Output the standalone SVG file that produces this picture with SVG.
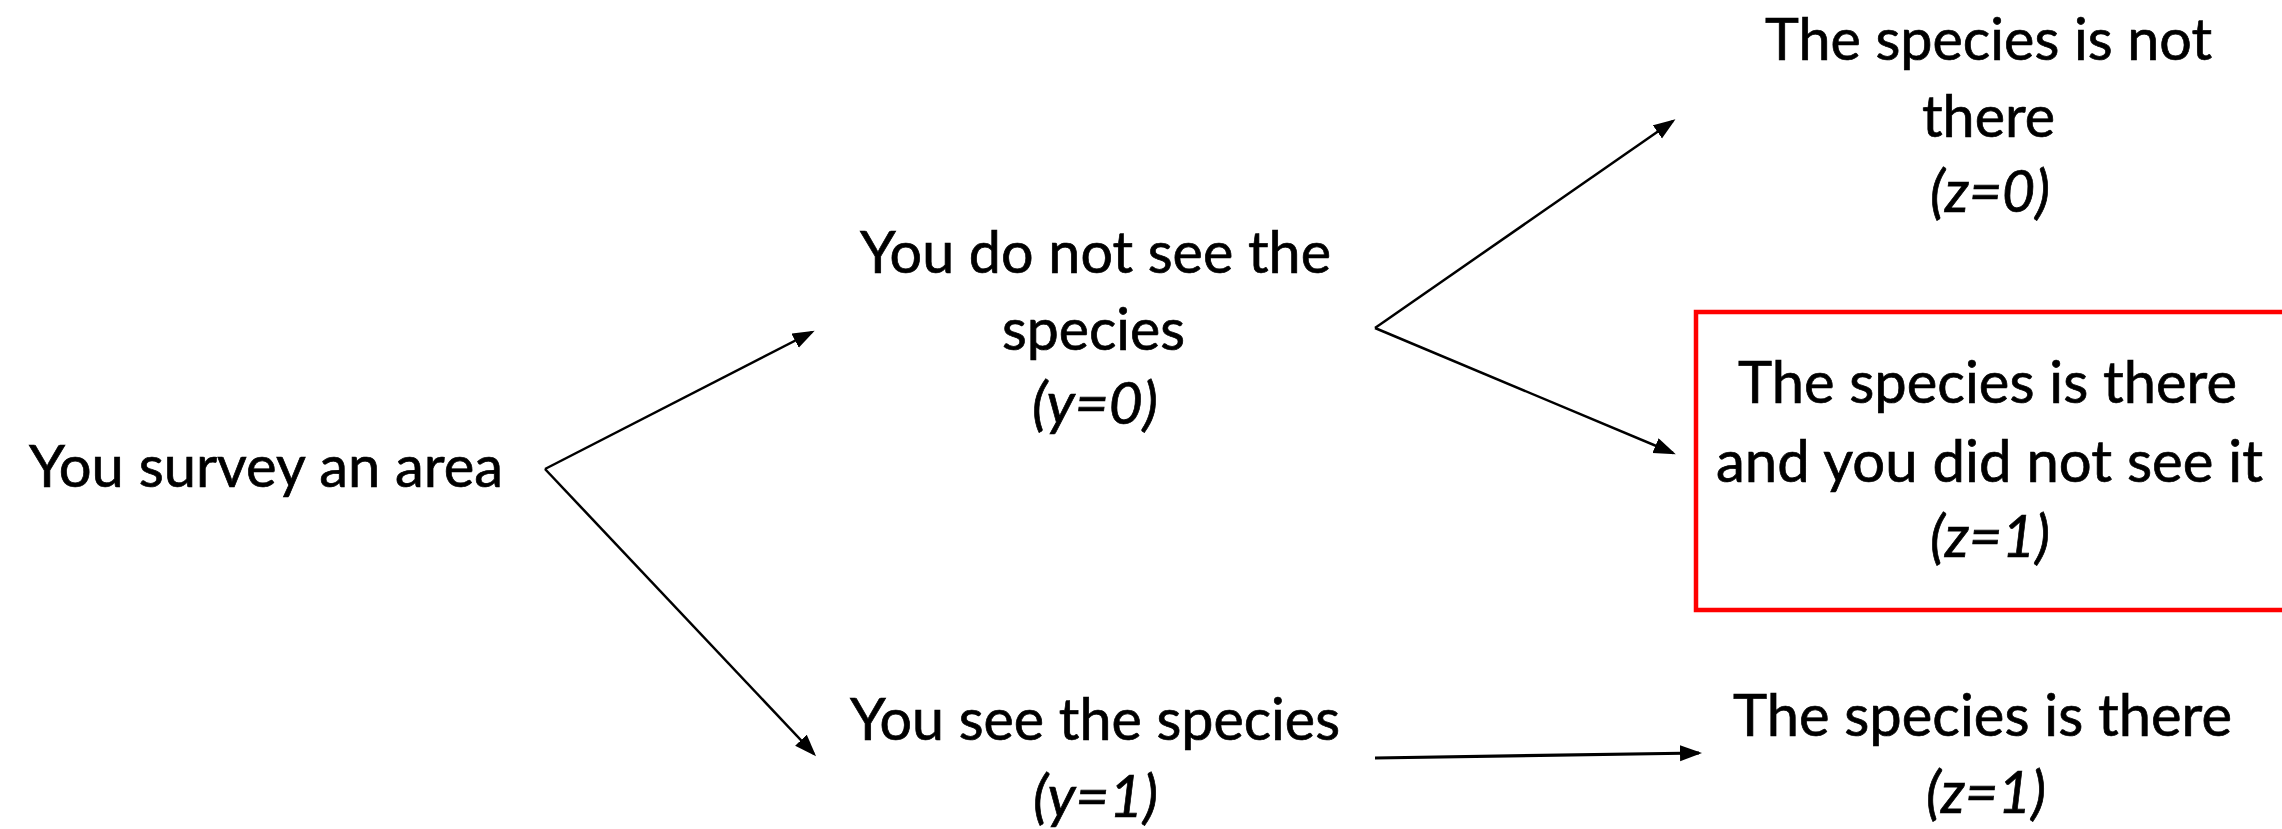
<svg xmlns="http://www.w3.org/2000/svg" width="2282" height="829" viewBox="0 0 2282 829">
<style>
text{font-family:Lato,"Open Sans","Liberation Sans",sans-serif;font-size:58px;fill:#000;stroke:#000;stroke-width:0.7}
.it{font-style:italic}
.conn{stroke:#000;stroke-width:2.5;fill:none}
.thick{stroke-width:3.2}
</style>
<defs>
<marker id="ah" markerUnits="userSpaceOnUse" markerWidth="24" markerHeight="18" refX="19" refY="8" orient="auto">
<path d="M0,0 L22,8 L0,16 z" fill="#000"/>
</marker>
</defs>
<rect width="2282" height="829" fill="#fff"/>
<g id="connectors">
<line class="conn" x1="545" y1="469" x2="812" y2="332" marker-end="url(#ah)"/>
<line class="conn" x1="545" y1="469" x2="814" y2="754" marker-end="url(#ah)"/>
<line class="conn" x1="1375" y1="328" x2="1673" y2="121" marker-end="url(#ah)"/>
<line class="conn" x1="1375" y1="328" x2="1673" y2="453" marker-end="url(#ah)"/>
<line class="conn thick" x1="1375" y1="758" x2="1699" y2="753" marker-end="url(#ah)"/>
</g>
<g id="n-survey">
<text x="29" y="487" textLength="474" lengthAdjust="spacingAndGlyphs">You survey an area</text>
</g>
<g id="n-notsee">
<text x="860" y="273" textLength="471" lengthAdjust="spacingAndGlyphs">You do not see the</text>
<text x="1002" y="350" textLength="183" lengthAdjust="spacingAndGlyphs">species</text>
<text class="it" x="1032" y="424" textLength="126" lengthAdjust="spacingAndGlyphs">(y=0)</text>
</g>
<g id="n-see">
<text x="850" y="740" textLength="490" lengthAdjust="spacingAndGlyphs">You see the species</text>
<text class="it" x="1033" y="817" textLength="125" lengthAdjust="spacingAndGlyphs">(y=1)</text>
</g>
<g id="n-notthere">
<text x="1765" y="60" textLength="447" lengthAdjust="spacingAndGlyphs">The species is not</text>
<text x="1922" y="137" textLength="133" lengthAdjust="spacingAndGlyphs">there</text>
<text class="it" x="1930" y="212" textLength="120" lengthAdjust="spacingAndGlyphs">(z=0)</text>
</g>
<g id="n-there-unseen">
<rect x="1696" y="312" width="620" height="298" fill="none" stroke="#ff0000" stroke-width="4.5"/>
<text x="1738" y="403" textLength="499" lengthAdjust="spacingAndGlyphs">The species is there</text>
<text x="1716" y="482" textLength="547" lengthAdjust="spacingAndGlyphs">and you did not see it</text>
<text class="it" x="1930" y="557" textLength="120" lengthAdjust="spacingAndGlyphs">(z=1)</text>
</g>
<g id="n-there">
<text x="1733" y="736" textLength="499" lengthAdjust="spacingAndGlyphs">The species is there</text>
<text class="it" x="1926" y="813" textLength="120" lengthAdjust="spacingAndGlyphs">(z=1)</text>
</g>
</svg>
